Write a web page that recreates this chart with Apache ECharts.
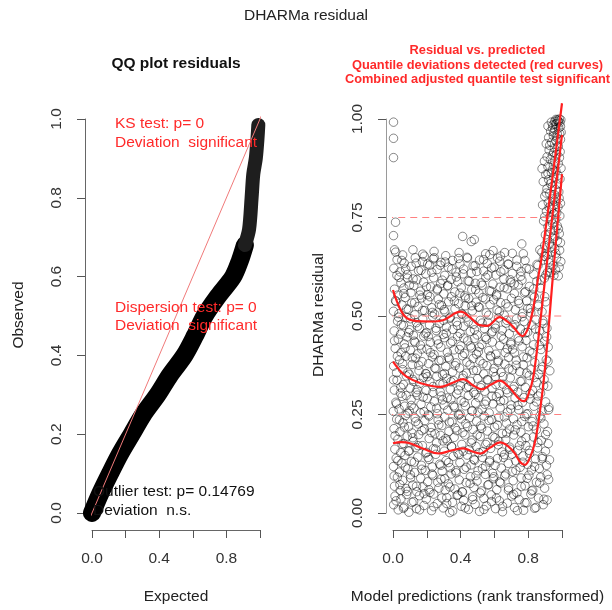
<!DOCTYPE html>
<html>
<head>
<meta charset="utf-8">
<title>DHARMa residual</title>
<script src="https://cdn.jsdelivr.net/npm/echarts@6.0.0/dist/echarts.min.js"></script>
<style>
  html, body { margin: 0; background: #fff; }
  #chart { width: 612px; height: 610px; }
</style>
</head>
<body>
<div id="chart"></div>
<script>
// ---- data ----
// QQ plot: [expected, observed], dense lower part and thinner upper part
const qqLower = [[0, 0], [0.05, 0.05], [0.107, 0.1], [0.167, 0.15], [0.236, 0.2], [0.305, 0.25], [0.39, 0.3],
  [0.464, 0.35], [0.55, 0.4], [0.613, 0.45], [0.67, 0.5], [0.75, 0.55], [0.84, 0.6], [0.88, 0.64], [0.91, 0.68]]
const qqUpper = [[0.91, 0.68], [0.935, 0.72], [0.95, 0.8], [0.96, 0.86], [0.975, 0.9], [0.985, 0.95], [0.99, 0.985]]
const qqRefLine = [[-0.04, -0.04], [1.04, 1.04]]

const qqXLabels = ['0.0', '', '0.4', '', '0.8', '']
const qqYLabels = ['0.0', '0.2', '0.4', '0.6', '0.8', '1.0']
const resXLabels = ['0.0', '', '0.4', '', '0.8', '']
const resYLabels = ['0.00', '0.25', '0.50', '0.75', '1.00']
const resHLines = [0.25, 0.5, 0.75]

// residual vs predicted: [rank transformed prediction, residual]
const resBulk = [
  [.004,.021],[.012,.043],[.031,.008],[.047,.036],[.066,.015],[.081,.047],[.094,.002],[.122,.029],[.139,.011],[.156,.044],[.183,.019],[.197,.035],[.228,.006],[.241,.048],[.262,.024],[.297,.013],[.318,.039],[.336,.001],[.352,.027],[.379,.045],[.404,.017],[.418,.032],[.447,.009],[.471,.041],[.486,.022],[.512,.004],[.538,.037],[.553,.018],[.581,.046],[.607,.011],[.629,.031],[.648,.003],[.676,.025],[.702,.043],[.719,.014],[.746,.034],[.773,.007],[.792,.026],[.816,.048],[.838,.012],[.861,.038],[.889,.021],[.912,.033],
  [.009,.068],[.026,.091],[.043,.057],[.058,.083],[.077,.062],[.103,.097],[.117,.071],[.141,.054],[.164,.088],[.177,.066],[.205,.079],[.219,.052],[.236,.095],[.271,.063],[.284,.086],[.309,.058],[.327,.074],[.344,.099],[.366,.061],[.392,.084],[.411,.053],[.433,.077],[.458,.092],[.479,.065],[.497,.081],[.524,.056],[.547,.098],[.566,.072],[.593,.087],[.614,.059],[.637,.076],[.661,.094],[.684,.064],[.711,.082],[.733,.051],[.758,.089],[.781,.069],[.804,.096],[.827,.058],[.849,.078],[.874,.091],[.897,.063],[.921,.085],
  [.003,.118],[.019,.139],[.038,.104],[.052,.127],[.071,.146],[.088,.112],[.109,.131],[.128,.103],[.147,.142],[.168,.121],[.191,.108],[.213,.136],[.232,.117],[.253,.149],[.276,.124],[.291,.106],[.314,.133],[.338,.115],[.357,.144],[.373,.102],[.396,.128],[.421,.111],[.439,.147],[.462,.122],[.483,.134],[.503,.107],[.529,.141],[.548,.119],[.571,.129],[.589,.101],[.618,.138],[.641,.114],[.659,.148],[.682,.126],[.706,.105],[.727,.132],[.752,.116],[.769,.145],[.797,.123],[.819,.109],[.843,.137],[.866,.113],[.884,.143],[.908,.121],[.926,.135],
  [.011,.162],[.029,.187],[.046,.153],[.063,.176],[.084,.195],[.097,.158],[.119,.181],[.136,.166],[.152,.199],[.174,.171],[.199,.154],[.214,.189],[.239,.163],[.258,.178],[.281,.197],[.303,.157],[.321,.183],[.347,.168],[.362,.192],[.384,.152],[.407,.174],[.426,.198],[.451,.161],[.468,.185],[.492,.169],[.516,.194],[.534,.156],[.557,.179],[.578,.164],[.603,.191],[.623,.173],[.644,.155],[.667,.186],[.691,.167],[.714,.198],[.737,.159],[.761,.182],[.786,.171],[.808,.151],[.831,.193],[.856,.165],[.878,.184],[.902,.157],[.919,.176],
  [.006,.214],[.022,.238],[.041,.206],[.059,.229],[.074,.247],[.092,.219],[.113,.203],[.131,.241],[.149,.226],[.171,.209],[.188,.234],[.209,.249],[.226,.217],[.248,.201],[.267,.236],[.289,.222],[.306,.244],[.331,.207],[.349,.231],[.368,.216],[.389,.248],[.413,.204],[.431,.227],[.454,.242],[.473,.212],[.494,.233],[.519,.221],[.539,.246],[.559,.208],[.584,.237],[.601,.218],[.626,.243],[.647,.202],[.671,.228],[.689,.213],[.713,.239],[.734,.224],[.757,.205],[.779,.245],[.801,.219],[.823,.232],[.848,.211],[.869,.247],[.893,.226],[.914,.207],
  [.002,.258],[.017,.281],[.036,.264],[.054,.296],[.069,.271],[.086,.253],[.107,.288],[.124,.266],[.143,.299],[.166,.276],[.184,.257],[.203,.291],[.224,.269],[.244,.283],[.263,.252],[.286,.297],[.302,.274],[.324,.261],[.343,.289],[.364,.268],[.386,.251],[.403,.285],[.428,.272],[.446,.298],[.466,.259],[.489,.279],[.507,.293],[.527,.263],[.551,.284],[.569,.254],[.592,.277],[.612,.295],[.634,.267],[.656,.286],[.678,.256],[.699,.274],[.722,.292],[.744,.262],[.766,.281],[.789,.251],[.811,.289],[.834,.271],[.858,.297],[.881,.259],[.903,.282],[.923,.268],
  [.008,.312],[.024,.337],[.044,.304],[.061,.326],[.079,.348],[.101,.317],[.118,.339],[.137,.306],[.158,.329],[.179,.344],[.196,.311],[.218,.333],[.237,.321],[.259,.347],[.279,.308],[.296,.328],[.317,.342],[.339,.314],[.358,.336],[.377,.302],[.399,.323],[.416,.349],[.437,.318],[.459,.334],[.478,.306],[.501,.341],[.521,.324],[.543,.309],[.562,.338],[.586,.316],[.606,.346],[.628,.303],[.651,.327],[.673,.313],[.694,.343],[.716,.321],[.738,.307],[.762,.335],[.783,.319],[.806,.349],[.826,.311],[.852,.331],[.873,.304],[.894,.339],[.916,.322],
  [.004,.373],[.021,.356],[.039,.389],[.057,.364],[.076,.398],[.096,.352],[.114,.377],[.134,.393],[.154,.361],[.172,.384],[.193,.354],[.211,.379],[.233,.396],[.254,.366],[.272,.387],[.293,.351],[.312,.372],[.334,.391],[.353,.358],[.372,.381],[.394,.368],[.412,.399],[.434,.355],[.456,.376],[.474,.392],[.496,.362],[.514,.386],[.537,.353],[.556,.374],[.579,.397],[.598,.367],[.621,.383],[.639,.357],[.662,.378],[.684,.395],[.707,.363],[.729,.388],[.749,.359],[.771,.376],[.793,.394],[.818,.365],[.839,.382],[.863,.352],[.886,.371],[.907,.389],[.928,.361],
  [.013,.418],[.031,.441],[.048,.407],[.067,.429],[.083,.447],[.104,.413],[.126,.436],[.145,.404],[.162,.426],[.182,.449],[.201,.416],[.221,.433],[.243,.402],[.261,.439],[.283,.421],[.304,.445],[.322,.408],[.341,.431],[.361,.414],[.382,.448],[.401,.424],[.423,.405],[.442,.437],[.464,.419],[.482,.443],[.505,.409],[.526,.428],[.546,.446],[.567,.412],[.588,.434],[.609,.403],[.632,.425],[.654,.441],[.676,.417],[.697,.432],[.719,.406],[.741,.444],[.764,.422],[.787,.438],[.809,.411],[.832,.427],[.855,.448],[.876,.415],[.898,.436],[.918,.421],
  [.007,.462],[.027,.487],[.045,.454],[.062,.476],[.081,.496],[.099,.465],[.121,.451],[.139,.483],[.157,.469],[.176,.492],[.198,.458],[.216,.477],[.234,.499],[.256,.463],[.274,.481],[.298,.453],[.316,.472],[.336,.494],[.354,.466],[.375,.485],[.397,.456],[.419,.474],[.436,.497],[.457,.461],[.476,.479],[.498,.452],[.517,.489],[.541,.468],[.561,.484],[.583,.457],[.604,.478],[.624,.495],[.646,.464],[.668,.482],[.688,.455],[.711,.471],[.731,.493],[.754,.467],[.776,.486],[.797,.459],[.821,.477],[.846,.491],[.868,.463],[.889,.481],[.911,.469],
  [.003,.512],[.018,.537],[.035,.506],[.053,.528],[.072,.547],[.091,.517],[.111,.533],[.129,.503],[.148,.524],[.169,.546],[.187,.514],[.206,.539],[.229,.521],[.246,.505],[.268,.543],[.287,.527],[.307,.511],[.329,.536],[.346,.549],[.367,.518],[.388,.531],[.409,.504],[.427,.526],[.448,.544],[.469,.513],[.491,.535],[.511,.522],[.532,.547],[.552,.508],[.574,.529],[.596,.541],[.616,.515],[.637,.534],[.658,.502],[.681,.523],[.701,.545],[.724,.516],[.746,.532],[.768,.507],[.791,.538],[.813,.519],[.837,.548],[.859,.525],[.882,.511],[.904,.536],
  [.009,.568],[.028,.553],[.047,.584],[.064,.571],[.086,.596],[.106,.559],[.123,.577],[.141,.592],[.163,.563],[.181,.586],[.203,.554],[.223,.574],[.241,.597],[.262,.566],[.282,.582],[.301,.556],[.323,.576],[.344,.593],[.366,.561],[.383,.587],[.404,.572],[.425,.551],[.444,.589],[.466,.567],[.487,.583],[.508,.558],[.528,.578],[.549,.598],[.571,.564],[.591,.581],[.613,.555],[.633,.573],[.656,.594],[.676,.569],[.698,.585],[.718,.557],[.741,.579],[.763,.591],[.784,.562],[.807,.575],[.829,.553],[.851,.588],[.872,.571],[.896,.596],
  [.005,.621],[.024,.643],[.042,.612],[.066,.634],[.084,.605],[.108,.626],[.132,.648],[.151,.615],[.174,.638],[.194,.607],[.217,.629],[.238,.645],[.261,.618],[.284,.636],[.306,.603],[.327,.624],[.352,.641],[.373,.611],[.396,.632],[.418,.619],[.441,.647],[.463,.609],[.486,.628],[.512,.642],[.536,.614],[.558,.633],[.584,.622],[.609,.604],[.631,.639],[.657,.617],[.683,.631],[.706,.608],[.732,.626],[.758,.613],[.781,.641],[.806,.619],[.833,.606],[.858,.628],
  [.016,.662],[.057,.655],[.118,.668],[.176,.657],[.243,.664],[.312,.653],[.391,.661],[.412,.702],[.463,.689],[.481,.694],[.548,.658],[.592,.666],[.636,.652],[.706,.659],[.762,.683]
]
// second layer of the same cloud, read column by column
const resBulkCols = [
  [.062,.012],[.018,.031],[.085,.055],[.041,.072],[.007,.094],[.073,.116],[.029,.133],[.091,.157],[.054,.175],[.012,.196],[.067,.218],[.038,.236],[.096,.259],[.021,.277],[.078,.298],[.046,.319],[.003,.338],[.088,.357],[.057,.379],[.026,.398],[.071,.419],[.009,.437],[.093,.458],[.049,.478],[.032,.497],[.081,.518],[.015,.539],[.064,.557],[.097,.578],[.036,.598],[.075,.619],[.052,.641],[.023,.603],
  [.157,.008],[.112,.027],[.183,.049],[.139,.068],[.104,.089],[.171,.111],[.126,.129],[.194,.152],[.148,.171],[.117,.191],[.186,.213],[.134,.232],[.162,.254],[.108,.273],[.179,.294],[.143,.313],[.121,.334],[.197,.353],[.152,.375],[.114,.394],[.169,.416],[.131,.433],[.191,.455],[.146,.474],[.103,.493],[.176,.514],[.128,.534],[.159,.553],[.198,.574],[.119,.594],[.166,.616],[.137,.634],[.185,.652],
  [.241,.016],[.289,.038],[.213,.059],[.265,.078],[.231,.099],[.283,.121],[.207,.141],[.252,.162],[.296,.183],[.226,.204],[.271,.224],[.214,.246],[.258,.266],[.293,.287],[.236,.306],[.277,.327],[.203,.346],[.247,.368],[.286,.388],[.222,.407],[.268,.429],[.209,.448],[.254,.469],[.299,.489],[.233,.509],[.274,.529],[.218,.549],[.262,.569],[.291,.591],[.229,.611],[.279,.629],[.244,.648],[.205,.632],
  [.353,.005],[.318,.024],[.384,.046],[.337,.066],[.306,.087],[.372,.107],[.329,.128],[.391,.148],[.346,.169],[.312,.189],[.378,.209],[.334,.231],[.397,.251],[.358,.272],[.321,.292],[.386,.312],[.343,.333],[.304,.354],[.368,.374],[.327,.395],[.393,.415],[.351,.436],[.315,.456],[.381,.476],[.339,.497],[.302,.516],[.363,.538],[.396,.558],[.324,.578],[.375,.599],[.348,.619],[.309,.637],[.388,.646],
  [.427,.013],[.472,.034],[.409,.054],[.456,.075],[.491,.095],[.433,.116],[.478,.136],[.416,.157],[.463,.178],[.498,.198],[.441,.219],[.404,.239],[.469,.259],[.421,.281],[.486,.301],[.448,.321],[.412,.342],[.476,.362],[.437,.383],[.494,.403],[.458,.424],[.419,.444],[.482,.465],[.445,.485],[.407,.506],[.466,.526],[.429,.546],[.489,.567],[.451,.588],[.414,.607],[.474,.627],[.438,.649],[.496,.613],
  [.538,.009],[.583,.029],[.516,.051],[.561,.071],[.597,.092],[.529,.113],[.572,.133],[.508,.153],[.549,.174],[.591,.194],[.524,.215],[.568,.235],[.503,.256],[.544,.276],[.586,.297],[.519,.318],[.557,.338],[.594,.358],[.533,.379],[.576,.399],[.511,.421],[.553,.441],[.589,.461],[.527,.482],[.566,.502],[.505,.523],[.547,.543],[.581,.563],[.522,.584],[.562,.604],[.599,.624],[.536,.643],[.573,.656],
  [.648,.017],[.612,.038],[.683,.058],[.631,.079],[.667,.099],[.604,.121],[.654,.141],[.691,.162],[.626,.182],[.672,.203],[.617,.223],[.659,.244],[.697,.264],[.636,.284],[.678,.305],[.609,.326],[.651,.346],[.686,.366],[.623,.387],[.664,.407],[.698,.428],[.641,.449],[.606,.469],[.674,.489],[.629,.511],[.668,.531],[.613,.551],[.657,.572],[.694,.592],[.638,.612],[.681,.632],[.619,.647],[.661,.661],
  [.736,.006],[.781,.026],[.714,.047],[.759,.067],[.794,.088],[.727,.108],[.768,.129],[.705,.149],[.749,.171],[.787,.191],[.723,.211],[.762,.232],[.798,.252],[.739,.273],[.776,.293],[.711,.314],[.753,.334],[.791,.355],[.729,.375],[.771,.396],[.708,.416],[.746,.437],[.784,.457],[.721,.478],[.764,.498],[.797,.519],[.742,.539],[.778,.559],[.717,.581],[.756,.601],[.789,.621],[.733,.642],[.771,.658],
  [.846,.014],[.893,.035],[.821,.056],[.868,.076],[.912,.097],[.838,.118],[.883,.138],[.806,.159],[.857,.179],[.903,.199],[.829,.221],[.875,.241],[.921,.262],[.849,.282],[.812,.303],[.891,.323],[.836,.344],[.878,.364],[.917,.385],[.824,.406],[.866,.426],[.909,.447],[.843,.467],[.887,.488],[.815,.508],[.861,.529],[.898,.549],[.833,.569],[.874,.591],[.914,.611],[.852,.631],[.895,.652],[.869,.668]
]
const resLeftOutliers = [[.003,.992],[.003,.951],[.003,.902],[.015,.738],[.003,.704],[.009,.668]]
const resRightCluster = [
  [.905,.604],[.934,.611],[.962,.617],[.978,.602],[.947,.628],[.921,.636],[.889,.642],[.968,.647],[.993,.638],[.912,.655],[.941,.662],[.957,.671],[.986,.667],[.926,.683],[.898,.679],[.973,.691],[.949,.697],[.881,.662],
  [.902,.706],[.931,.712],[.958,.718],[.984,.709],[.917,.727],[.944,.734],[.972,.729],[.891,.741],[.963,.746],[.929,.752],[.952,.759],[.987,.754],[.908,.766],[.938,.771],[.976,.777],[.885,.782],[.919,.788],[.958,.791],[.991,.786],[.946,.797],
  [.898,.804],[.927,.811],[.955,.808],[.981,.815],[.911,.823],[.943,.829],[.969,.834],[.889,.841],[.921,.846],[.952,.852],[.988,.848],[.904,.859],[.937,.864],[.964,.868],[.882,.874],[.917,.879],[.949,.883],[.978,.887],[.896,.893],[.931,.897],[.994,.875],
  [.912,.904],[.943,.908],[.969,.911],[.989,.917],[.924,.921],[.955,.926],[.978,.931],[.907,.937],[.938,.941],[.964,.944],[.991,.948],[.921,.953],[.949,.957],[.972,.962],[.995,.966],[.933,.969],[.958,.973],[.981,.977],[.917,.982],[.946,.985],[.968,.988],[.988,.991],[.957,.994],[.976,.996],[.993,.998],[.964,.999],[.984,1.0],
  [.952,.603],[.927,.622],[.983,.624],[.901,.651],[.963,.659],[.935,.675],[.991,.686],[.914,.694],[.957,.703],[.979,.721],[.936,.743],[.898,.752],[.969,.762],[.924,.776],[.951,.781],[.983,.799],[.907,.812],[.962,.821],[.932,.836],[.976,.857],[.943,.871],[.917,.862],[.958,.893],[.985,.902],[.951,.915],[.927,.933],[.972,.951],[.986,.963],[.944,.977],[.961,.987],[.979,.993],[.991,.981],[.952,.965],[.937,.992],[.972,.998]
]

// quantile regression curves (0.25, 0.5, 0.75)
const q25 = [[0, .177], [.05, .18], [.1, .177], [.18, .163], [.27, .151], [.34, .158], [.416, .164], [.47, .156], [.515, .151],
  [.575, .166], [.633, .179], [.68, .17], [.72, .152], [.755, .128], [.78, .122], [.81, .14], [.84, .18], [.87, .26], [.9, .37], [.95, .62], [1.0, .86]]
const q50 = [[0, .384], [.04, .362], [.08, .346], [.16, .33], [.28, .32], [.35, .33], [.416, .34], [.47, .325], [.525, .314],
  [.58, .326], [.633, .336], [.68, .322], [.71, .308], [.75, .288], [.775, .284], [.8, .3], [.83, .345], [.87, .48], [.92, .67], [1.0, .96]]
const q75 = [[0, .566], [.04, .52], [.08, .495], [.14, .487], [.22, .486], [.3, .49], [.4, .511], [.46, .495], [.51, .477],
  [.555, .475], [.633, .497], [.68, .485], [.71, .473], [.767, .449], [.8, .47], [.83, .52], [.86, .6], [.88, .65], [.94, .84], [1.0, 1.04]]

// ---- chart ----
const FONT = '"Liberation Sans", Arial, Helvetica, sans-serif'
const myChart = echarts.init(document.getElementById('chart'))

function xAxisOf(grid, labels) {
  return {
    gridIndex: grid, type: 'value', min: 0, max: 1, interval: 0.2, offset: 17,
    axisLine: { onZero: false, lineStyle: { color: '#666' } },
    axisTick: { length: 8, lineStyle: { color: '#555' } },
    splitLine: { show: false },
    axisLabel: {
      margin: 21, fontSize: 15.5, color: '#333', fontFamily: FONT,
      formatter: v => labels[Math.round(v / 0.2)]
    }
  }
}
function yAxisOf(grid, labels, step, lineColor) {
  return {
    gridIndex: grid, type: 'value', min: 0, max: 1, interval: step, offset: 7,
    axisLine: { show: true, onZero: false, lineStyle: { color: lineColor } },
    axisTick: { show: true, length: 8, lineStyle: { color: '#555' } },
    splitLine: { show: false },
    axisLabel: {
      margin: 20, fontSize: 15.5, color: '#333', fontFamily: FONT, rotate: 90,
      formatter: v => labels[Math.round(v / step)]
    }
  }
}
// plain text, left aligned unless told otherwise
function text(x, y, s, size, color, extra) {
  extra = extra || {}
  return {
    type: 'text', x: x, y: y, z: 100, rotation: extra.rotation || 0,
    style: {
      text: s, fill: color, align: extra.align || 'left', verticalAlign: 'middle',
      font: (extra.bold ? 'bold ' : '') + size + 'px ' + FONT
    }
  }
}

const red = '#ff2a2a'
let option = {
  backgroundColor: '#fff',
  animation: false,
  grid: [
    { left: 92, top: 119, width: 168, height: 394 },
    { left: 393, top: 119, width: 169, height: 394 }
  ],
  xAxis: [xAxisOf(0, qqXLabels), xAxisOf(1, resXLabels)],
  yAxis: [yAxisOf(0, qqYLabels, 0.2, '#666'), yAxisOf(1, resYLabels, 0.25, '#9a9a9a')],
  series: [
    {
      type: 'line', xAxisIndex: 0, yAxisIndex: 0, data: qqLower, smooth: 0.3, showSymbol: false, clip: false,
      lineStyle: { color: '#000', width: 18, cap: 'round', join: 'round' }
    },
    {
      type: 'line', xAxisIndex: 0, yAxisIndex: 0, data: qqUpper, smooth: 0.3, showSymbol: false, clip: false,
      lineStyle: { color: '#1e1e1e', width: 14, cap: 'round', join: 'round' }
    },
    {
      type: 'line', xAxisIndex: 0, yAxisIndex: 0, data: qqRefLine, showSymbol: false, clip: false,
      lineStyle: { color: '#f07a7a', width: 1 }
    },
    ...resHLines.map(v => ({
      type: 'line', xAxisIndex: 1, yAxisIndex: 1, data: [[-0.04, v], [1.04, v]], showSymbol: false, clip: false,
      lineStyle: { color: '#ff8080', width: 1, type: [7, 5] }
    })),
    {
      type: 'scatter', xAxisIndex: 1, yAxisIndex: 1,
      data: resBulk.concat(resBulkCols, resLeftOutliers, resRightCluster),
      symbol: 'circle', symbolSize: 8.5,
      itemStyle: { color: 'rgba(0,0,0,0)', borderColor: 'rgba(0,0,0,0.58)', borderWidth: 1 }
    },
    ...[q25, q50, q75].map(q => ({
      type: 'line', xAxisIndex: 1, yAxisIndex: 1, data: q, smooth: 0.4, showSymbol: false, clip: false,
      lineStyle: { color: '#ff1f1f', width: 2.2 }
    }))
  ],
  graphic: [
    text(306, 16, 'DHARMa residual', 15.5, '#222', { align: 'center' }),
    text(176, 64, 'QQ plot residuals', 15.5, '#111', { align: 'center', bold: true }),
    text(115, 124, 'KS test: p= 0', 15.5, red),
    text(115, 142.5, 'Deviation  significant', 15.5, red),
    text(115, 308, 'Dispersion test: p= 0', 15.5, red),
    text(115, 325.5, 'Deviation  significant', 15.5, red),
    text(93, 491.5, 'Outlier test: p= 0.14769', 15.5, '#111'),
    text(93, 510.5, 'Deviation  n.s.', 15.5, '#111'),
    text(176, 597, 'Expected', 15.5, '#222', { align: 'center' }),
    text(19, 315, 'Observed', 15.5, '#222', { align: 'center', rotation: Math.PI / 2 }),
    text(477.5, 50, 'Residual vs. predicted', 12.8, red, { align: 'center', bold: true }),
    text(477.5, 65, 'Quantile deviations detected (red curves)', 12.8, red, { align: 'center', bold: true }),
    text(477.5, 79.5, 'Combined adjusted quantile test significant', 12.8, red, { align: 'center', bold: true }),
    text(319, 315, 'DHARMa residual', 15.5, '#222', { align: 'center', rotation: Math.PI / 2 }),
    text(477.5, 597, 'Model predictions (rank transformed)', 15.5, '#222', { align: 'center' })
  ]
}
myChart.setOption(option)
window.onresize = myChart.resize
</script>
</body>
</html>
